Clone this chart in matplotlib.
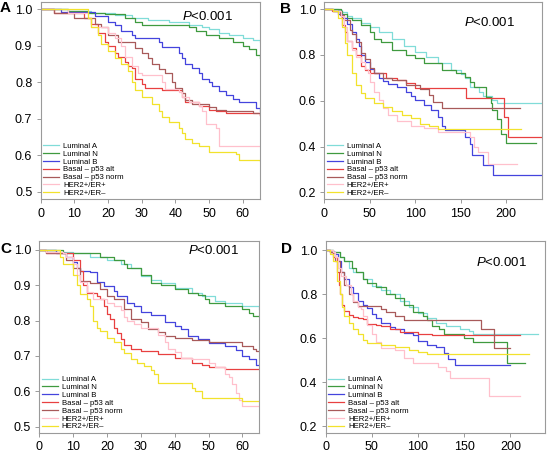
import matplotlib
matplotlib.use("Agg")
import matplotlib.pyplot as plt

plt.rcParams['font.family'] = ['Liberation Sans', 'DejaVu Sans']
plt.rcParams['mathtext.fontset'] = 'custom'
plt.rcParams['mathtext.it'] = 'Liberation Sans:italic'
plt.rcParams['mathtext.rm'] = 'Liberation Sans'

labels = ['Luminal A', 'Luminal N', 'Luminal B', 'Basal \u2013 p53 alt',
          'Basal \u2013 p53 norm', 'HER2+/ER+', 'HER2+/ER\u2013']
colors = ['#80dcd8', '#3f9a3f', '#4444dd', '#e84040', '#a85a5a', '#ffc0cc', '#f2e22c']

# panel A: (time, survival) step points
a_lum_a = [(0, 1.0), (8, 0.995), (15, 0.99), (22, 0.985), (27, 0.975), (32, 0.97), (38, 0.965),
           (44, 0.955), (48, 0.95), (50, 0.945), (53, 0.935), (56, 0.93), (60, 0.92), (63, 0.915), (65, 0.91)]
a_lum_n = [(0, 1.0), (8, 0.995), (14, 0.99), (19, 0.986), (25, 0.975), (28, 0.965), (30, 0.955),
           (44, 0.95), (46, 0.94), (49, 0.93), (53, 0.92), (57, 0.91), (60, 0.9), (62, 0.89), (64, 0.875), (65, 0.865)]
a_lum_b = [(0, 1.0), (6, 0.992), (16, 0.98), (20, 0.965), (22, 0.955), (24, 0.94), (27, 0.93), (28, 0.92),
           (35, 0.91), (36, 0.897), (41, 0.879), (42, 0.865), (43, 0.85), (45, 0.84), (47, 0.825), (48, 0.81),
           (50, 0.8), (51, 0.79), (53, 0.775), (55, 0.765), (57, 0.755), (59, 0.745), (64, 0.73), (65, 0.72)]
a_bas_alt = [(0, 1.0), (4, 0.99), (13, 0.975), (15, 0.96), (17, 0.935), (19, 0.91), (20, 0.9), (22, 0.88),
             (23, 0.87), (25, 0.855), (26, 0.845), (27, 0.838), (28, 0.81), (30, 0.795), (31, 0.784),
             (36, 0.778), (42, 0.76), (43, 0.747), (47, 0.735), (50, 0.725), (52, 0.72), (55, 0.715), (65, 0.71)]
a_bas_norm = [(0, 1.0), (4, 0.99), (10, 0.975), (16, 0.96), (18, 0.95), (20, 0.93), (23, 0.91), (28, 0.893),
              (30, 0.88), (32, 0.865), (33, 0.85), (35, 0.835), (37, 0.824), (39, 0.8), (40, 0.785),
              (42, 0.77), (43, 0.752), (45, 0.74), (50, 0.732), (52, 0.725), (55, 0.72), (63, 0.715), (65, 0.71)]
a_her_pos = [(0, 1.0), (8, 0.99), (14, 0.975), (15, 0.95), (20, 0.935), (22, 0.92), (24, 0.9), (25, 0.87),
             (27, 0.845), (29, 0.825), (30, 0.82), (36, 0.8), (37, 0.782), (41, 0.772), (42, 0.76), (44, 0.747),
             (47, 0.735), (48, 0.72), (49, 0.685), (52, 0.675), (53, 0.627), (65, 0.625)]
a_her_neg = [(0, 1.0), (14, 0.975), (15, 0.95), (17, 0.93), (18, 0.905), (20, 0.885), (22, 0.865), (24, 0.85),
             (26, 0.83), (27, 0.8), (28, 0.78), (30, 0.76), (33, 0.74), (35, 0.72), (36, 0.705), (38, 0.69),
             (41, 0.675), (42, 0.66), (43, 0.645), (45, 0.635), (47, 0.625), (50, 0.61), (58, 0.605), (59, 0.588), (65, 0.586)]

# panel B
b_lum_a = [(0, 1.0), (15, 0.995), (20, 0.985), (25, 0.97), (30, 0.96), (40, 0.94), (50, 0.92), (60, 0.9),
           (75, 0.868), (88, 0.84), (100, 0.814), (112, 0.79), (125, 0.765), (140, 0.735), (150, 0.716),
           (155, 0.7), (160, 0.66), (170, 0.64), (175, 0.62), (185, 0.605), (190, 0.588), (240, 0.588)]
b_lum_n = [(0, 1.0), (18, 0.99), (20, 0.98), (25, 0.96), (30, 0.95), (40, 0.93), (50, 0.9), (55, 0.87),
           (62, 0.855), (75, 0.82), (90, 0.8), (100, 0.785), (110, 0.763), (130, 0.734), (145, 0.72),
           (155, 0.705), (160, 0.68), (165, 0.66), (178, 0.617), (183, 0.59), (185, 0.56), (190, 0.52),
           (195, 0.457), (200, 0.417), (233, 0.417)]
b_lum_b = [(0, 1.0), (10, 0.99), (15, 0.98), (20, 0.96), (25, 0.935), (30, 0.9), (35, 0.87), (38, 0.84),
           (40, 0.8), (45, 0.77), (50, 0.74), (55, 0.72), (60, 0.7), (65, 0.685), (70, 0.672), (80, 0.66),
           (90, 0.64), (95, 0.62), (100, 0.603), (110, 0.58), (118, 0.56), (125, 0.53), (130, 0.49),
           (133, 0.472), (155, 0.44), (160, 0.41), (163, 0.363), (175, 0.32), (186, 0.276), (240, 0.276)]
b_bas_alt = [(0, 1.0), (8, 0.99), (18, 0.97), (20, 0.93), (23, 0.9), (25, 0.86), (30, 0.83), (35, 0.8),
             (40, 0.75), (45, 0.735), (50, 0.722), (68, 0.7), (80, 0.69), (90, 0.676), (100, 0.654),
             (156, 0.61), (198, 0.53), (202, 0.443), (240, 0.443)]
b_bas_norm = [(0, 1.0), (10, 0.99), (17, 0.975), (22, 0.95), (28, 0.91), (30, 0.89), (35, 0.855), (40, 0.81),
              (45, 0.78), (50, 0.741), (55, 0.72), (65, 0.7), (75, 0.69), (90, 0.67), (105, 0.65),
              (115, 0.625), (120, 0.596), (130, 0.569), (215, 0.569)]
b_her_pos = [(0, 1.0), (10, 0.99), (18, 0.97), (22, 0.92), (25, 0.86), (30, 0.82), (35, 0.79), (40, 0.77),
             (45, 0.74), (48, 0.72), (50, 0.68), (55, 0.64), (60, 0.603), (65, 0.57), (70, 0.537), (80, 0.51),
             (95, 0.49), (110, 0.479), (125, 0.465), (160, 0.44), (165, 0.4), (169, 0.377), (180, 0.324), (212, 0.324)]
b_her_neg = [(0, 1.0), (10, 0.99), (15, 0.96), (20, 0.92), (23, 0.85), (25, 0.8), (30, 0.72), (35, 0.67),
             (40, 0.632), (45, 0.61), (55, 0.59), (65, 0.574), (75, 0.555), (85, 0.537), (95, 0.523),
             (105, 0.5), (115, 0.49), (125, 0.476), (217, 0.476)]

# panel C
c_lum_a = [(0, 1.0), (5, 0.995), (10, 0.99), (15, 0.98), (20, 0.97), (24, 0.96), (27, 0.95), (30, 0.926),
           (33, 0.915), (36, 0.906), (40, 0.893), (45, 0.879), (48, 0.87), (52, 0.856), (55, 0.85),
           (60, 0.84), (65, 0.832)]
c_lum_n = [(0, 1.0), (7, 0.99), (18, 0.98), (22, 0.97), (25, 0.96), (26, 0.95), (30, 0.93), (33, 0.905),
           (36, 0.9), (40, 0.89), (44, 0.878), (47, 0.872), (49, 0.86), (50, 0.85), (55, 0.84), (60, 0.832),
           (62, 0.822), (63, 0.813), (65, 0.813)]
c_lum_b = [(0, 1.0), (5, 0.99), (8, 0.98), (10, 0.965), (11, 0.95), (12, 0.94), (15, 0.936), (17, 0.91),
           (19, 0.898), (22, 0.884), (23, 0.87), (26, 0.85), (28, 0.84), (30, 0.823), (33, 0.815), (37, 0.795),
           (40, 0.785), (42, 0.775), (44, 0.757), (47, 0.748), (50, 0.738), (55, 0.728), (58, 0.717),
           (60, 0.7), (62, 0.69), (64, 0.674), (65, 0.674)]
c_bas_alt = [(0, 1.0), (2, 0.99), (10, 0.97), (12, 0.94), (13, 0.9), (14, 0.879), (17, 0.87), (18, 0.86),
             (19, 0.84), (20, 0.82), (21, 0.804), (22, 0.78), (23, 0.766), (24, 0.747), (25, 0.73), (27, 0.72),
             (30, 0.714), (35, 0.705), (40, 0.695), (45, 0.68), (48, 0.675), (50, 0.67), (55, 0.662), (65, 0.662)]
c_bas_norm = [(0, 1.0), (2, 0.99), (8, 0.97), (10, 0.95), (12, 0.912), (15, 0.905), (18, 0.89), (20, 0.87),
              (22, 0.86), (25, 0.832), (27, 0.804), (30, 0.795), (32, 0.775), (35, 0.768), (37, 0.757),
              (40, 0.75), (45, 0.745), (50, 0.74), (60, 0.728), (63, 0.72), (64, 0.714), (65, 0.714)]
c_her_pos = [(0, 1.0), (2, 0.995), (7, 0.99), (8, 0.98), (10, 0.96), (11, 0.93), (12, 0.91), (14, 0.88),
             (16, 0.86), (20, 0.85), (22, 0.84), (24, 0.83), (25, 0.81), (26, 0.8), (28, 0.79), (30, 0.78),
             (35, 0.76), (37, 0.74), (38, 0.72), (40, 0.71), (42, 0.695), (45, 0.69), (50, 0.68), (52, 0.67),
             (55, 0.65), (56, 0.64), (57, 0.62), (58, 0.596), (59, 0.575), (60, 0.558), (65, 0.558)]
c_her_neg = [(0, 1.0), (6, 0.98), (7, 0.96), (10, 0.93), (11, 0.9), (12, 0.875), (14, 0.86), (15, 0.84),
             (16, 0.8), (17, 0.78), (18, 0.771), (20, 0.75), (22, 0.74), (24, 0.72), (25, 0.709), (27, 0.69),
             (29, 0.68), (31, 0.672), (33, 0.66), (34, 0.65), (35, 0.624), (45, 0.61), (46, 0.6), (48, 0.582),
             (60, 0.573), (65, 0.573)]

# panel D
d_lum_a = [(0, 1.0), (8, 0.99), (15, 0.97), (20, 0.95), (25, 0.92), (30, 0.9), (40, 0.87), (50, 0.836),
           (60, 0.82), (70, 0.8), (80, 0.768), (90, 0.74), (100, 0.712), (110, 0.69), (120, 0.67),
           (130, 0.655), (145, 0.64), (155, 0.63), (160, 0.617), (230, 0.617)]
d_lum_n = [(0, 1.0), (8, 0.99), (15, 0.97), (20, 0.95), (28, 0.92), (33, 0.9), (40, 0.87), (45, 0.85),
           (55, 0.83), (65, 0.798), (75, 0.78), (85, 0.75), (95, 0.72), (105, 0.7), (110, 0.68), (115, 0.654),
           (123, 0.64), (128, 0.617), (150, 0.6), (160, 0.582), (196, 0.488), (216, 0.488)]
d_lum_b = [(0, 1.0), (5, 0.99), (10, 0.98), (13, 0.95), (17, 0.9), (20, 0.87), (25, 0.83), (30, 0.806),
           (35, 0.77), (40, 0.75), (45, 0.738), (50, 0.71), (55, 0.69), (60, 0.67), (70, 0.65), (75, 0.64),
           (85, 0.625), (95, 0.614), (100, 0.586), (110, 0.57), (120, 0.56), (128, 0.533), (132, 0.503),
           (140, 0.476), (200, 0.476)]
d_bas_alt = [(0, 1.0), (5, 0.99), (8, 0.97), (12, 0.9), (14, 0.84), (16, 0.8), (18, 0.75), (20, 0.723),
             (25, 0.705), (30, 0.695), (35, 0.69), (40, 0.685), (45, 0.665), (55, 0.66), (60, 0.655),
             (70, 0.64), (80, 0.627), (100, 0.618), (115, 0.612), (210, 0.612)]
d_bas_norm = [(0, 1.0), (5, 0.99), (10, 0.95), (15, 0.9), (20, 0.84), (25, 0.8), (30, 0.765), (35, 0.745),
              (55, 0.745), (60, 0.73), (65, 0.72), (75, 0.7), (85, 0.682), (168, 0.64), (182, 0.556), (200, 0.556)]
d_her_pos = [(0, 1.0), (8, 0.99), (10, 0.97), (13, 0.92), (17, 0.88), (22, 0.84), (27, 0.8), (30, 0.77),
             (35, 0.74), (38, 0.73), (40, 0.7), (45, 0.66), (50, 0.62), (55, 0.58), (60, 0.556), (75, 0.545),
             (85, 0.51), (95, 0.488), (122, 0.47), (130, 0.45), (135, 0.42), (177, 0.336), (210, 0.336)]
d_her_neg = [(0, 1.0), (5, 0.98), (8, 0.95), (12, 0.86), (15, 0.8), (18, 0.74), (20, 0.7), (25, 0.67),
             (30, 0.64), (35, 0.617), (40, 0.59), (45, 0.579), (60, 0.568), (75, 0.56), (90, 0.545),
             (100, 0.535), (110, 0.526), (220, 0.526)]

panels = [
    ('A', [a_lum_a, a_lum_n, a_lum_b, a_bas_alt, a_bas_norm, a_her_pos, a_her_neg]),
    ('B', [b_lum_a, b_lum_n, b_lum_b, b_bas_alt, b_bas_norm, b_her_pos, b_her_neg]),
    ('C', [c_lum_a, c_lum_n, c_lum_b, c_bas_alt, c_bas_norm, c_her_pos, c_her_neg]),
    ('D', [d_lum_a, d_lum_n, d_lum_b, d_bas_alt, d_bas_norm, d_her_pos, d_her_neg]),
]

W, H = 548, 453
# axes boxes in pixels: left, top, right, bottom
boxes = {'A': (40.7, 1.7, 259.5, 199.3), 'B': (324.3, 1.7, 542.3, 199.3),
         'C': (39.3, 241, 259.3, 432.7), 'D': (325.7, 241, 544.5, 432.7)}
xlims = {'A': (0, 65), 'B': (0, 240), 'C': (0, 65), 'D': (0, 237)}
ylims = {'A': (0.48, 1.02), 'B': (0.17, 1.032), 'C': (0.483, 1.025), 'D': (0.17, 1.041)}
letter_pos = {'A': (0, 8), 'B': (280, 9), 'C': (0, 249), 'D': (281, 249)}
p_pos = {'A': (182, 17), 'B': (464, 22), 'C': (188, 251), 'D': (476, 263)}

fig = plt.figure(figsize=(W / 100, H / 100), dpi=100)

for name, curves in panels:
    l, t, r, b = boxes[name]
    ax = fig.add_axes([l / W, 1 - b / H, (r - l) / W, (b - t) / H])
    for pts, lab, col in zip(curves, labels, colors):
        xs = [p[0] for p in pts]
        ys = [p[1] for p in pts]
        ax.plot(xs, ys, drawstyle='steps-post', color=col, lw=0.9, label=lab)
    ax.set_xlim(*xlims[name])
    ax.set_ylim(*ylims[name])
    if name in ('A', 'C'):
        ax.set_xticks(range(0, 61, 10))
        ax.set_yticks([0.5, 0.6, 0.7, 0.8, 0.9, 1.0])
    else:
        ax.set_xticks(range(0, 201, 50))
        ax.set_yticks([0.2, 0.4, 0.6, 0.8, 1.0])
    ax.yaxis.set_major_formatter(matplotlib.ticker.FormatStrFormatter('%.1f'))
    for s in ax.spines.values():
        s.set_color('#9a9a9a')
        s.set_linewidth(0.8)
    ax.tick_params(length=3, width=0.7, color='#9a9a9a', labelsize=9, pad=3)
    ax.legend(loc='lower left', frameon=False, fontsize=5.6, handlelength=2.1,
              handletextpad=0.5, labelspacing=0.05, borderaxespad=0.1, borderpad=0.2)
    lx, ly = letter_pos[name]
    fig.text(lx / W, 1 - ly / H, name, fontsize=11, fontweight='bold', ha='left', va='center')
    px, py = p_pos[name]
    fig.text(px / W, 1 - py / H, r'$\it{P}$<0.001', fontsize=9.5, ha='left', va='center')

fig.savefig('out.png', dpi=100)
